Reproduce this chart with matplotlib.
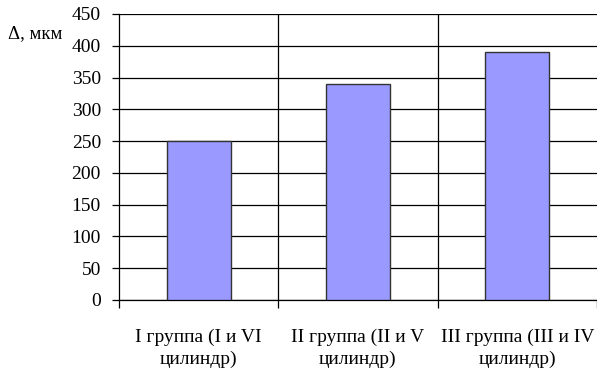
import numpy as np
import matplotlib.pyplot as plt
from matplotlib.ticker import FixedLocator

plt.rcParams['font.family'] = ['Liberation Serif', 'DejaVu Serif']

groups = ["I группа (I и VI\nцилиндр)", "II группа (II и V\nцилиндр)", "III группа (III и IV\nцилиндр)"]
delta = [250, 340, 390]
yticks = np.arange(0, 451, 50)

fig = plt.figure(figsize=(5.97, 3.74), dpi=100)
ax = fig.add_axes([0.1993, 0.198, 0.8007, 0.7646])

x = np.arange(len(groups))
ax.bar(x, delta, width=0.4, color="#9999ff", edgecolor="#333333", linewidth=1.0, zorder=3)

ax.set_xlim(-0.5, len(groups) - 0.5)
ax.set_ylim(0, 450)
ax.set_yticks(yticks)
ax.set_xticks(x)
ax.set_xticklabels(groups, fontsize=14, linespacing=1.35)
ax.xaxis.set_minor_locator(FixedLocator(np.arange(-0.5, len(groups), 1.0)))

ax.yaxis.grid(True, color="black", linewidth=0.9, zorder=0)
for b in np.arange(0.5, len(groups) - 0.5, 1.0):
    ax.axvline(b, color="black", linewidth=0.9, zorder=0)

ax.tick_params(axis="y", direction="out", length=5, width=0.9, pad=8, labelsize=14)
ax.tick_params(axis="x", which="major", length=0, pad=21)
ax.tick_params(axis="x", which="minor", direction="out", length=6, width=0.9)

for side in ["top", "right"]:
    ax.spines[side].set_visible(False)
ax.spines["left"].set_linewidth(0.9)
ax.spines["bottom"].set_linewidth(0.9)

fig.text(8 / 597, 1 - 34 / 374, "Δ, мкм", fontsize=13.5, va="center", ha="left")

fig.savefig("out.png", dpi=100)
